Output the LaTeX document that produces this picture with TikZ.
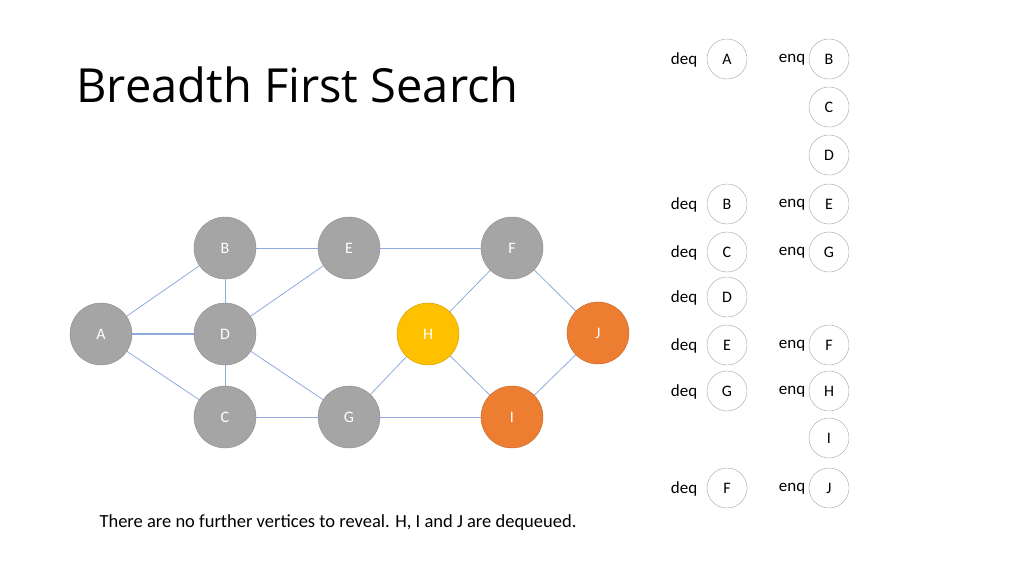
\documentclass[tikz,border=0pt]{standalone}
\usepackage{fontspec}
\setmainfont{Carlito}
\newfontfamily\titlefont{Open Sans}
\usetikzlibrary{positioning,backgrounds}
\definecolor{edgeblue}{HTML}{8FAADC}
\definecolor{vgray}{HTML}{A5A5A5}
\definecolor{vyellow}{HTML}{FFC000}
\definecolor{vorange}{HTML}{ED7D31}
\tikzset{
  vertex/.style={circle, draw=black!45, fill=vgray, minimum size=62pt, inner sep=0pt, text=white, font=\fontsize{16}{18}\selectfont},
  visiting/.style={vertex, draw=vyellow!80!black, fill=vyellow},
  done/.style={vertex, draw=vorange!80!black, fill=vorange},
  qitem/.style={circle, draw=black!35, fill=white, minimum size=40pt, inner sep=0pt, font=\fontsize{16}{18}\selectfont},
  qlabel/.style={font=\fontsize{17}{20}\selectfont, anchor=east},
  edge/.style={draw=edgeblue, line width=0.8pt}
}
\begin{document}
\begin{tikzpicture}[x=1pt, y=-1pt]
\useasboundingbox (0,0) rectangle (1024,575);
\node[anchor=west, font=\titlefont\fontsize{47}{54}\selectfont] (title) at (73,85) {Breadth First Search};

% graph
\node[vertex] (A) at (101,334) {A};
\node[vertex] (B) at (225,248) {B};
\node[vertex] (D) at (225,334) {D};
\node[vertex] (C) at (225,417) {C};
\node[vertex] (E) at (349,248) {E};
\node[vertex] (G) at (349,417) {G};
\node[vertex] (F) at (512,248) {F};
\node[visiting] (H) at (428,334) {H};
\node[done] (J) at (598,333) {J};
\node[done] (I) at (512,417) {I};

\begin{scope}[on background layer]
\foreach \u/\v in {A/B, A/C, B/D, D/C, B/E, D/E, D/G, C/G, E/F, F/H, F/J, H/G, H/I, G/I, I/J}
  \path[edge] (\u) -- (\v);
\path[edge, line width=1.4pt] (A) -- (D);
\end{scope}

% queue
\foreach \n/\y in {A/59, B/204, C/252, D/297, E/345, G/391, F/488}
  \node[qitem] (d\n) at (727,\y) {\n};
\foreach \n/\y in {B/59, C/107, D/155, E/204, G/252, F/345, H/391, I/438, J/488}
  \node[qitem] (e\n) at (829,\y) {\n};
\foreach \n in {A, B, C, D, E, G, F}
  \node[qlabel] at ([xshift=-6pt, yshift=-1pt]d\n.west) {deq};
\foreach \n in {B, E, G, F, H, J}
  \node[qlabel] at ([xshift=0pt, yshift=-1pt]e\n.west) {enq};

\node[anchor=west, font=\fontsize{18.5}{22}\selectfont] (caption) at (96,523) {There are no further vertices to reveal. H, I and J are dequeued.};
\end{tikzpicture}
\end{document}
